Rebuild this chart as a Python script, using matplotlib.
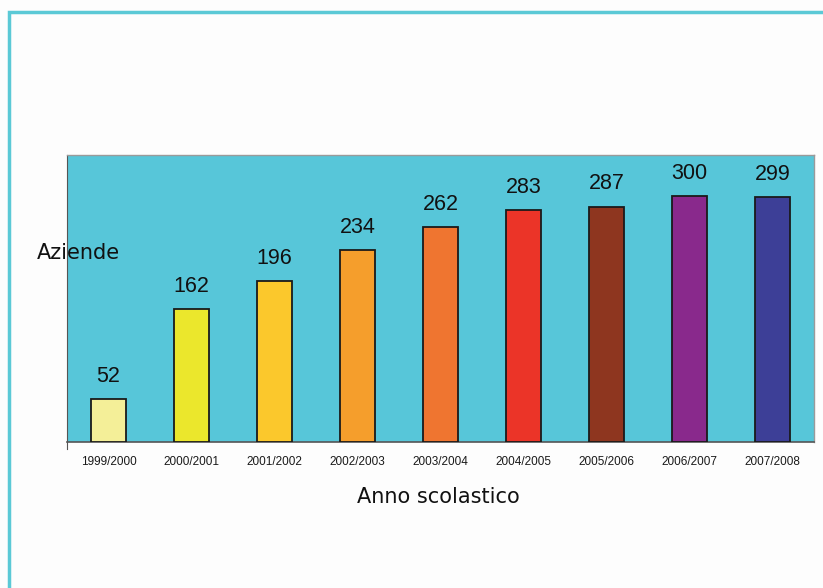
import numpy as np
import matplotlib.pyplot as plt
from matplotlib.patches import Rectangle

# dati
anni = ['1999/2000', '2000/2001', '2001/2002', '2002/2003', '2003/2004',
        '2004/2005', '2005/2006', '2006/2007', '2007/2008']
aziende = [52, 162, 196, 234, 262, 283, 287, 300, 299]
colori = ['#F4EF98', '#EBE72C', '#FBC82C', '#F59E2C', '#EF7530',
          '#EB3428', '#8E361F', '#89298C', '#3D3F97']

fig = plt.figure(figsize=(8.23, 5.88), dpi=100, facecolor='#FDFDFD')

# bordo esterno
fig.patches.append(Rectangle((9/823, -0.1), 1.2, 1 - 12/588 + 0.1,
                             transform=fig.transFigure, fill=False,
                             edgecolor='#5BC9D6', linewidth=2.5))

ax = fig.add_axes([67/823, 1 - 442/588, (814-67)/823, (442-155)/588])
ax.set_facecolor('#57C6D9')

x = np.arange(len(anni))
ax.bar(x, aziende, width=0.42, color=colori, edgecolor='#1A1A1A', linewidth=1.3, zorder=3)
for xi, v in zip(x, aziende):
    ax.text(xi, v + 15, str(v), ha='center', va='bottom', fontsize=15.5,
            family=['Liberation Sans', 'DejaVu Sans'], color='#111111')

ax.set_xlim(-0.5, 8.5)
ax.set_ylim(0, 350)
ax.set_yticks([])
ax.set_xticks(x)
ax.set_xticklabels(anni, fontsize=8.5, family=['Liberation Sans', 'DejaVu Sans'],
                   color='#1A1A1A')
ax.tick_params(axis='x', length=0, pad=10)

for s in ['top', 'right']:
    ax.spines[s].set_color('#9A9A9A')
    ax.spines[s].set_linewidth(1.0)
ax.spines['left'].set_color('#555555')
ax.spines['bottom'].set_color('#555555')
ax.spines['bottom'].set_linewidth(1.2)
ax.spines['left'].set_bounds(-8, 350)
ax.set_ylim(0, 350)

fig.text(37/823, 1 - 253/588, 'Aziende', fontsize=15, va='center', ha='left', color='#111111')
fig.text(438/823, 1 - 497/588, 'Anno scolastico', fontsize=15, va='center', ha='center',
         color='#111111')

fig.savefig('out.png', dpi=100, facecolor=fig.get_facecolor())
